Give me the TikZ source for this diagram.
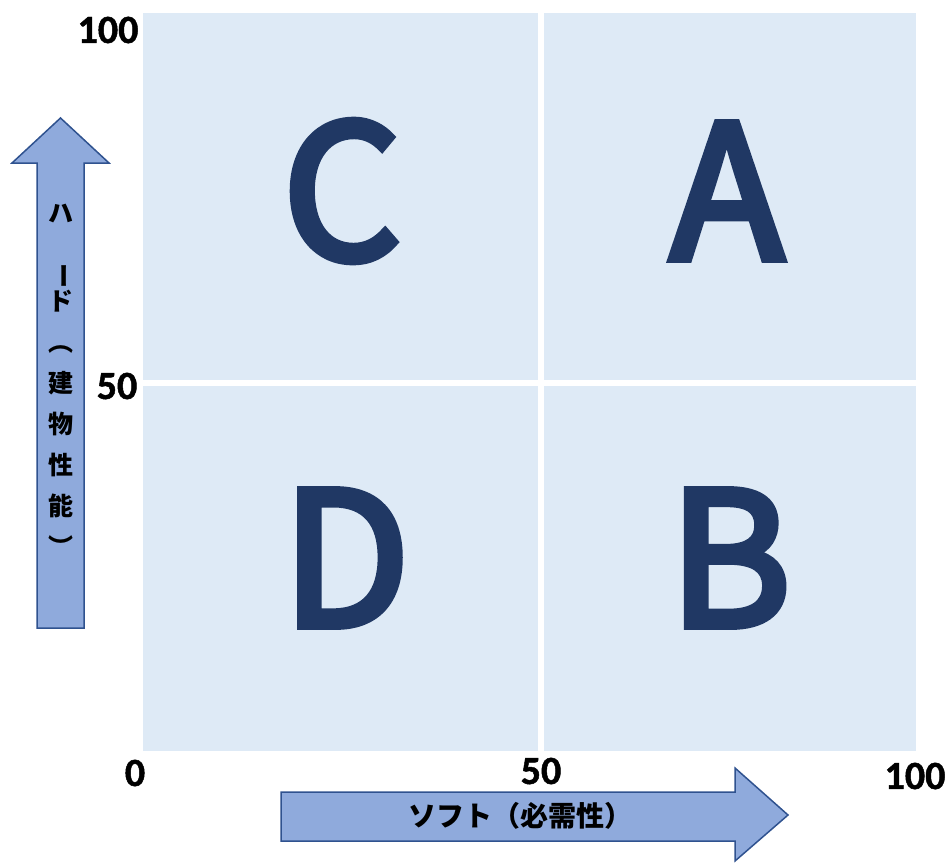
\documentclass[tikz,border=0pt]{standalone}
\usepackage{fontspec}
\setmainfont{Carlito}
\newfontfamily\jp{Noto Sans CJK JP}
\newfontfamily\jpletter{Noto Sans CJK JP}[FakeBold=4]

\definecolor{cellblue}{HTML}{DEEAF6}
\definecolor{arrowblue}{HTML}{8FAADC}
\definecolor{arrowline}{HTML}{2F528F}
\definecolor{letterblue}{HTML}{203864}

\begin{document}
\begin{tikzpicture}[x=0.5pt,y=-0.5pt,
    cell/.style={fill=cellblue},
    quadletter/.style={text=letterblue,inner sep=0pt,
      font=\jpletter\fontsize{93}{93}\selectfont},
    tick/.style={inner sep=0pt,
      font=\bfseries\addfontfeatures{FakeBold=1.2}\fontsize{20}{20}\selectfont},
    axisarrow/.style={fill=arrowblue,draw=arrowline,line width=0.75pt},
    axislabel/.style={inner sep=0pt,align=center}]
  \useasboundingbox (0,0) rectangle (947,862);

  % four cells
  \fill[cell] (143,13) rectangle (537.5,380);
  \fill[cell] (544,13) rectangle (916,380);
  \fill[cell] (143,386) rectangle (537.5,751);
  \fill[cell] (544,386) rectangle (916,751);

  \node[quadletter] (qC) at (342,191) {C};
  \node[quadletter] (qA) at (727,191) {A};
  \node[quadletter] (qD) at (346,558) {D};
  \node[quadletter] (qB) at (730,558) {B};

  % scale values
  \node[tick] (y100) at (108,30) {100};
  \node[tick] (y50) at (117,386) {50};
  \node[tick] (x0) at (135,773) {0};
  \node[tick] (x50) at (541,771) {50};
  \node[tick] (x100) at (915,776) {100};

  % axis arrows
  \draw[axisarrow] (37,628) -- (37,163) -- (12,163) -- (60.5,118) -- (109,163)
    -- (84,163) -- (84,628) -- cycle;
  \draw[axisarrow] (281,792) -- (735,792) -- (735,768) -- (788,815) -- (735,861)
    -- (735,841) -- (281,841) -- cycle;

  \node[axislabel,font=\jp\bfseries\fontsize{12.5}{20.5}\selectfont] (hard) at (60.5,380.5)
    {ハ\\\rotatebox{-90}{ー}\\ド\\︵\\建\\物\\性\\能\\︶};
  \node[axislabel,font=\jp\bfseries\fontsize{14}{16}\selectfont] (soft) at (520,816)
    {ソフト（必需性）};
\end{tikzpicture}
\end{document}
